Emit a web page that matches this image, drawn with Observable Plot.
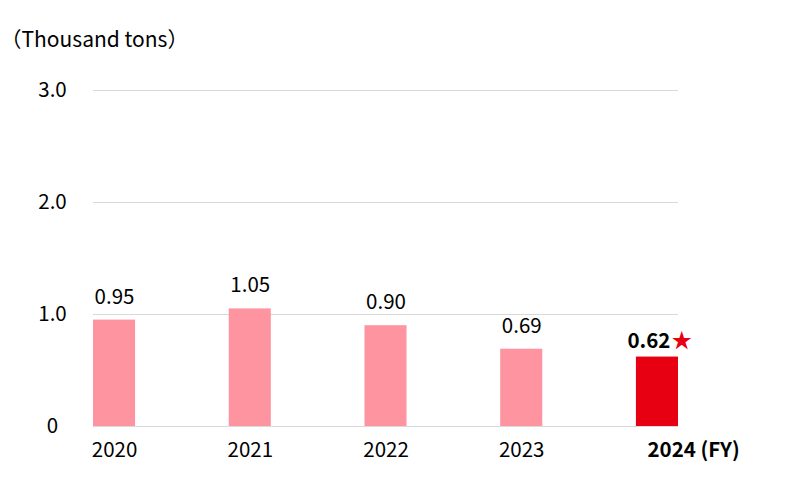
<!DOCTYPE html>
<html>
<head>
<meta charset="utf-8">
<script src="https://cdn.jsdelivr.net/npm/d3@7"></script>
<script src="https://cdn.jsdelivr.net/npm/@observablehq/plot@0.6"></script>
<style>
  html, body { margin: 0; padding: 0; background: #fff; }
  svg { font-family: "Noto Sans CJK JP", "Noto Sans", sans-serif; }
</style>
</head>
<body>
<div id="chart"></div>
<script>
const years = ["2020", "2021", "2022", "2023", "2024"];
const values = [0.95, 1.05, 0.90, 0.69, 0.62];
const valueLabels = ["0.95", "1.05", "0.90", "0.69", "0.62"];
const yTicks = [0, 1, 2, 3];
const yTickLabels = ["0", "1.0", "2.0", "3.0"];
const unitLabel = "（Thousand tons）";
const lastYearLabel = "2024 (FY)";
const highlightYear = "2024";
const star = "★";

const pink = "#ff94a1";
const red = "#e60012";

const rows = years.map((y, i) => ({year: y, value: values[i], label: valueLabels[i]}));
const normalRows = rows.filter(d => d.year !== highlightYear);
const hiRows = rows.filter(d => d.year === highlightYear);
const tickRows = yTicks.map((t, i) => ({t, label: yTickLabels[i]}));

const fs = 20.5;

const chart = Plot.plot({
  width: 800,
  height: 500,
  marginLeft: 93,
  marginRight: 122,
  marginTop: 90,
  marginBottom: 74,
  style: {fontFamily: '"Noto Sans CJK JP", "Noto Sans", sans-serif', fontSize: fs + "px", color: "#000", background: "#fff"},
  x: {type: "band", domain: years, paddingInner: 0.69, paddingOuter: 0, round: false, axis: null},
  y: {domain: [0, 3], axis: null},
  marks: [
    Plot.ruleY(yTicks, {stroke: "#d9d9d9", strokeWidth: 1}),
    Plot.barY(rows, {x: "year", y: "value", fill: d => d.year === highlightYear ? red : pink}),
    // y tick labels
    Plot.text(tickRows, {y: "t", text: "label", frameAnchor: "left", dx: -41, textAnchor: "middle", fontSize: fs, fill: "#000"}),
    // value labels
    Plot.text(normalRows, {x: "year", y: "value", text: "label", dy: -23, lineAnchor: "middle", fontSize: fs, fill: "#000"}),
    Plot.text(hiRows, {x: "year", y: "value", text: "label", dy: -16, dx: 13, textAnchor: "end", lineAnchor: "middle", fontSize: fs, fontWeight: "bold", fill: "#000"}),
    Plot.text(hiRows, {x: "year", y: "value", text: () => star, dy: -16, dx: 14, textAnchor: "start", lineAnchor: "middle", fontSize: fs, fill: red}),
    // x labels
    Plot.text(normalRows, {x: "year", text: "year", frameAnchor: "bottom", dy: 24, lineAnchor: "middle", fontSize: fs, fill: "#000"}),
    Plot.text(hiRows, {x: "year", text: () => lastYearLabel, frameAnchor: "bottom", dy: 24, dx: -10, textAnchor: "start", lineAnchor: "middle", fontSize: fs, fontWeight: "bold", fill: "#000"}),
    // unit title
    Plot.text([unitLabel], {text: d => d, frameAnchor: "top-left", dx: -93, dy: -50, textAnchor: "start", lineAnchor: "middle", fontSize: 21, fill: "#000"})
  ]
});
document.getElementById("chart").appendChild(chart);
</script>
</body>
</html>
